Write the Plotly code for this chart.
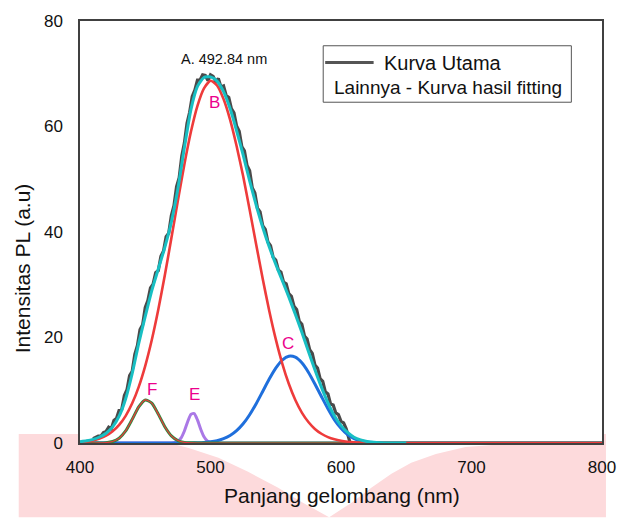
import plotly.graph_objects as go

# ---------------- data ----------------
# Main measured PL curve (noisy)
wl_main = [410, 412, 414, 416, 418, 420, 422, 424, 426, 428, 430, 432, 434, 436, 438, 440,
           442, 444, 446, 448, 450, 452, 454, 456, 458, 460, 462, 464, 466, 468, 470, 472,
           474, 476, 478, 480, 482, 484, 486, 488, 490, 492, 494, 496, 498, 500, 502, 504,
           506, 508, 510, 512, 514, 516, 518, 520, 522, 524, 526, 528, 530, 532, 534, 536,
           538, 540, 542, 544, 546, 548, 550, 552, 554, 556, 558, 560, 562, 564, 566, 568,
           570, 572, 574, 576, 578, 580, 582, 584, 586, 588, 590, 592, 594, 596, 598, 600,
           602, 604, 606, 607]
pl_main = [0.8, 1.0, 1.3, 1.3, 2.0, 2.2, 3.0, 2.7, 4.3, 4.7, 6.2, 6.4, 9.0, 10.1, 12.8, 13.6,
           16.8, 18.5, 21.5, 22.4, 25.7, 27.0, 29.4, 30.1, 32.3, 32.7, 35.4, 36.4, 39.1, 39.8, 43.1, 45.0,
           48.6, 50.3, 54.4, 56.9, 60.6, 62.7, 65.7, 66.9, 68.8, 68.8, 69.8, 69.7, 68.7, 69.8, 69.5, 68.5,
           69.1, 67.5, 67.7, 65.9, 65.5, 63.4, 62.6, 60.1, 59.1, 56.2, 55.4, 52.6, 51.6, 48.4, 47.4, 44.5,
           43.8, 41.2, 40.5, 38.1, 37.4, 35.2, 34.7, 32.8, 32.4, 30.5, 30.2, 28.3, 27.8, 25.9, 25.3, 23.1,
           22.5, 20.3, 19.7, 17.7, 17.0, 14.8, 14.2, 12.2, 11.7, 9.7, 9.3, 7.4, 7.2, 5.7, 5.4, 4.1,
           3.8, 2.7, 1.0, 0.0]

# Cumulative fitted curve (cyan)
wl_fit = [400, 405, 410, 415, 420, 425, 430, 435, 440, 445, 450, 455, 460, 465, 470, 475,
          480, 485, 490, 495, 500, 505, 510, 515, 520, 525, 530, 535, 540, 545, 550, 555,
          560, 565, 570, 575, 580, 585, 590, 595, 600, 605, 610, 615, 620, 625, 630, 640, 650]
pl_fit = [0.24, 0.41, 0.69, 1.14, 1.86, 3.06, 5.08, 8.39, 13.18, 18.89, 24.0, 28.9, 33.0, 37.1, 41.9, 48.2,
          56.0, 63.2, 67.6, 69.3, 69.4, 68.6, 66.6, 63.4, 59.2, 54.6, 49.7, 45.1, 40.9, 37.2, 33.9, 30.8,
          27.7, 24.4, 21.0, 17.4, 13.9, 10.6, 7.6, 5.1, 3.3, 2.0, 1.1, 0.6, 0.3, 0.14, 0.06, 0.01, 0.0]

# Peak B (red)
wl_b = [400, 405, 410, 415, 420, 425, 430, 435, 440, 445, 450, 455, 460, 465, 470, 475,
        480, 485, 490, 495, 500, 505, 510, 515, 520, 525, 530, 535, 540, 545, 550, 555,
        560, 565, 570, 575, 580, 585, 590, 595, 600, 605, 610, 615, 620, 625, 630, 640, 650, 700, 800]
pl_b = [0.16, 0.29, 0.50, 0.85, 1.39, 2.22, 3.43, 5.15, 7.52, 10.65, 14.63, 19.52, 25.29, 31.79, 38.80, 45.97,
        52.86, 59.00, 63.93, 67.24, 68.66, 67.8, 65.2, 61.3, 56.3, 50.6, 44.2, 37.65, 31.13, 25.09, 19.70, 15.07,
        11.23, 8.16, 5.77, 3.98, 2.67, 1.75, 1.11, 0.69, 0.42, 0.25, 0.14, 0.08, 0.04, 0.02, 0.01, 0.0, 0.0, 0.0, 0.0]

# Peak C (blue)
wl_c = [400, 480, 485, 490, 495, 500, 505, 510, 515, 520, 525, 530, 535, 540, 545, 550,
        555, 560, 565, 570, 575, 580, 585, 590, 595, 600, 605, 610, 615, 620, 625, 630, 635, 640, 645, 800]
pl_c = [0.0, 0.0, 0.02, 0.05, 0.11, 0.23, 0.44, 0.82, 1.42, 2.34, 3.64, 5.36, 7.44, 9.77, 12.12, 14.20,
        15.73, 16.46, 16.27, 15.20, 13.42, 11.19, 8.82, 6.5, 4.4, 2.8, 1.6, 0.85, 0.42, 0.2, 0.09, 0.04, 0.01, 0.0, 0.0, 0.0]

# Peak E (purple)
wl_e = [400, 460, 465, 470, 472.5, 475, 477.5, 480, 482.5, 485, 487.5, 490, 492.5, 495, 497.5,
        500, 502.5, 505, 510, 515, 800]
pl_e = [0.0, 0.0, 0.0, 0.02, 0.08, 0.32, 0.98, 2.28, 4.03, 5.43, 5.58, 4.37, 2.61, 1.18, 0.41,
        0.11, 0.02, 0.0, 0.0, 0.0, 0.0]

# Peak F (green/red)
wl_f = [400, 405, 410, 415, 420, 425, 430, 435, 440, 445, 450, 455, 460, 465, 470, 475,
        480, 485, 490, 495, 800]
pl_f = [0.0, 0.0, 0.0, 0.01, 0.07, 0.28, 0.90, 2.28, 4.48, 6.85, 8.16, 7.57, 5.47, 3.08, 1.35, 0.46,
        0.12, 0.03, 0.0, 0.0, 0.0]

# Peak labels
peak_labels = ["B", "C", "E", "F"]
peak_label_x = [503, 559, 488, 455]
peak_label_y = [64.6, 18.8, 9.2, 10.1]

main_peak_text = "A. 492.84 nm"
main_peak_pos = (510.5, 72.8)

x_ticks = [400, 500, 600, 700, 800]
y_ticks = [0, 20, 40, 60, 80]

# ---------------- styling ----------------
FONT = "Liberation Sans, Arial, Helvetica, sans-serif"
W, H = 628, 518
L, R, T, B = 80, 20, 17, 75
PW, PH = W - L - R, H - T - B


def px(xp):
    return (xp - L) / PW


def py(yp):
    return (H - B - yp) / PH


fig = go.Figure()

fig.add_trace(go.Scatter(x=wl_main, y=pl_main, mode="lines",
                         line=dict(color="#4a4a4a", width=3.2), hoverinfo="skip"))
fig.add_trace(go.Scatter(x=wl_e, y=pl_e, mode="lines",
                         line=dict(color="#aa78e6", width=3, shape="spline", smoothing=0.6), hoverinfo="skip"))
fig.add_trace(go.Scatter(x=wl_c, y=pl_c, mode="lines",
                         line=dict(color="#1f6fdc", width=3, shape="spline", smoothing=0.6), hoverinfo="skip"))
fig.add_trace(go.Scatter(x=wl_f, y=pl_f, mode="lines",
                         line=dict(color="#2e8b3e", width=3, shape="spline", smoothing=0.6), hoverinfo="skip"))
fig.add_trace(go.Scatter(x=wl_f, y=pl_f, mode="lines",
                         line=dict(color="#e8383d", width=1.2, shape="spline", smoothing=0.6), hoverinfo="skip"))
fig.add_trace(go.Scatter(x=wl_b, y=pl_b, mode="lines",
                         line=dict(color="#ee3b3b", width=2.6, shape="spline", smoothing=0.6), hoverinfo="skip"))
fig.add_trace(go.Scatter(x=wl_fit, y=pl_fit, mode="lines",
                         line=dict(color="#18bfc3", width=3, shape="spline", smoothing=0.6), hoverinfo="skip"))

# decorative pink backdrop below the plot (px outline)
pink_outline = [(18, 434), (150, 434), (170, 443), (190, 448), (220, 458), (250, 472), (280, 488),
                (305, 503), (332, 518), (355, 503), (375, 488), (395, 474), (415, 463), (440, 454),
                (470, 447), (510, 444), (540, 442), (560, 434), (612, 434), (612, 518), (18, 518)]
path = "M " + " L ".join(f"{px(a):.4f},{py(b):.4f}" for a, b in pink_outline) + " Z"

shapes = [
    dict(type="path", path=path, xref="paper", yref="paper", fillcolor="rgb(253,218,220)",
         line=dict(width=0), layer="below"),
    dict(type="rect", xref="paper", yref="paper", x0=0, x1=1, y0=0, y1=1,
         fillcolor="white", line=dict(width=0), layer="below"),
    # legend box
    dict(type="rect", xref="paper", yref="paper", x0=px(326), x1=px(577), y0=py(99), y1=py(42),
         fillcolor="white", line=dict(color="#555555", width=1)),
    dict(type="line", xref="paper", yref="paper", x0=px(328), x1=px(377), y0=py(59), y1=py(59),
         line=dict(color="#555555", width=3)),
]

annotations = [
    dict(x=px(385), y=py(59), xref="paper", yref="paper", text="Kurva Utama", showarrow=False,
         xanchor="left", yanchor="middle", font=dict(family=FONT, size=20, color="#111111")),
    dict(x=px(335), y=py(84.5), xref="paper", yref="paper", text="Lainnya - Kurva hasil fitting",
         showarrow=False, xanchor="left", yanchor="middle", font=dict(family=FONT, size=19, color="#111111")),
    dict(x=main_peak_pos[0], y=main_peak_pos[1], xref="x", yref="y", text=main_peak_text, showarrow=False,
         xanchor="center", yanchor="middle", font=dict(family=FONT, size=14.5, color="#111111")),
    dict(x=px(22), y=py(267), xref="paper", yref="paper", text="Intensitas PL (a.u)", showarrow=False,
         textangle=-90, xanchor="center", yanchor="middle", font=dict(family=FONT, size=21, color="#111111")),
    dict(x=px(345), y=py(496), xref="paper", yref="paper", text="Panjang gelombang (nm)", showarrow=False,
         xanchor="center", yanchor="middle", font=dict(family=FONT, size=21, color="#111111")),
]
for lab, lx, ly in zip(peak_labels, peak_label_x, peak_label_y):
    annotations.append(dict(x=lx, y=ly, xref="x", yref="y", text=lab, showarrow=False,
                            xanchor="center", yanchor="middle",
                            font=dict(family=FONT, size=17, color="#ec008c")))

fig.update_layout(
    width=W, height=H,
    margin=dict(l=L, r=R, t=T, b=B, pad=0),
    paper_bgcolor="white", plot_bgcolor="rgba(0,0,0,0)",
    showlegend=False,
    shapes=shapes, annotations=annotations,
    font=dict(family=FONT, size=17, color="#111111"),
)
fig.update_xaxes(range=[400, 800], tickvals=x_ticks, ticktext=[str(v) for v in x_ticks],
                 showgrid=False, zeroline=False, showline=True, linecolor="#404040", linewidth=1.5,
                 mirror=True, ticks="", ticklabelstandoff=8,
                 tickfont=dict(family=FONT, size=17, color="#111111"))
fig.update_yaxes(range=[0, 80], tickvals=y_ticks, ticktext=[str(v) for v in y_ticks],
                 showgrid=False, zeroline=False, showline=True, linecolor="#404040", linewidth=1.5,
                 mirror=True, ticks="", ticklabelstandoff=12,
                 tickfont=dict(family=FONT, size=17, color="#111111"))

fig.write_html("out.html")
